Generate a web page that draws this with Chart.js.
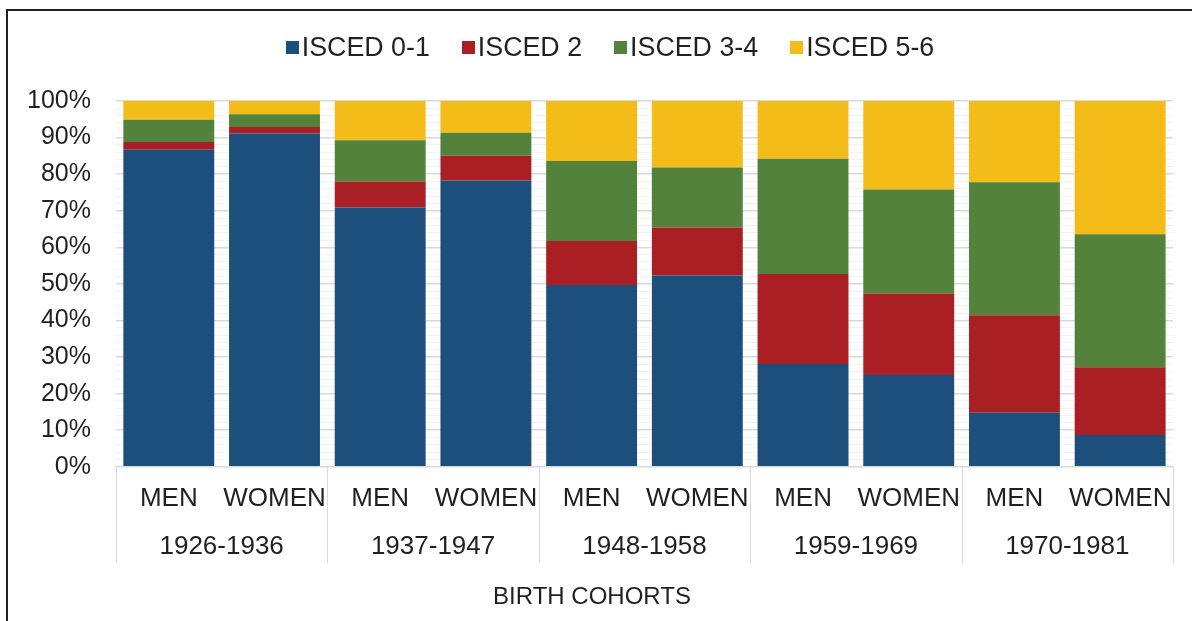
<!DOCTYPE html>
<html>
<head>
<meta charset="utf-8">
<script src="https://cdn.jsdelivr.net/npm/chart.js@4.4.1/dist/chart.umd.min.js"></script>
<style>
  body { margin: 0; background: #fff; font-family: "Liberation Sans", Arial, sans-serif; }
  #frame { position: absolute; left: 6px; top: 9px; width: 1200px; height: 640px;
           border-left: 2px solid #231f20; border-top: 2px solid #231f20; }
  #wrap { position: absolute; left: 0; top: 0; width: 1192px; height: 621px; }
  #legend { position: absolute; top: 32px; left: 28px; width: 1164px; text-align: center;
            font-size: 26.8px; color: #231f20; white-space: nowrap; }
  #legend span.item { display: inline-block; margin: 0 16px; }
  #legend span.box { display: inline-block; width: 13px; height: 13px; margin-right: 3px; vertical-align: 2px; }
</style>
</head>
<body>
<div id="frame"></div>
<div id="wrap"><canvas id="chart"></canvas></div>
<div id="legend"></div>
<script>
// categories: sex within each birth cohort
var sexes = ["MEN", "WOMEN", "MEN", "WOMEN", "MEN", "WOMEN", "MEN", "WOMEN", "MEN", "WOMEN"];
var cohorts = ["1926-1936", "1937-1947", "1948-1958", "1959-1969", "1970-1981"];
var axisTitle = "BIRTH COHORTS";

// shares (%)
var isced01 = [86.7, 91.1, 70.9, 78.3, 49.7, 52.3, 28.1, 25.1, 14.8, 8.7];
var isced2 = [2.1, 1.8, 7.1, 6.7, 12.0, 13.1, 24.6, 22.3, 26.6, 18.5];
var isced34 = [6.1, 3.5, 11.3, 6.3, 21.9, 16.4, 31.5, 28.4, 36.4, 36.4];
var isced56 = [5.1, 3.6, 10.7, 8.7, 16.4, 18.2, 15.8, 24.2, 22.2, 36.4];

var seriesNames = ["ISCED 0-1", "ISCED 2", "ISCED 3-4", "ISCED 5-6"];
var seriesColors = ["#1d4f7c", "#aa1f23", "#53823a", "#f4bc19"];
var seriesData = [isced01, isced2, isced34, isced56];

var textColor = "#231f20";
var gridMajor = "#d9d9d9";
var gridMinor = "#f2f2f2";
var fontFamily = "'Liberation Sans', Arial, sans-serif";

// draws the cohort row, the group separators and the axis title under the sex labels
var cohortAxis = {
  id: "cohortAxis",
  afterDraw: function (chart) {
    var ctx = chart.ctx;
    var xs = chart.scales.x;
    var bottom = chart.chartArea.bottom;
    var per = sexes.length / cohorts.length;
    var step = xs.getPixelForValue(1) - xs.getPixelForValue(0);
    ctx.save();
    ctx.strokeStyle = gridMajor;
    ctx.lineWidth = 1;
    for (var i = 0; i <= cohorts.length; i++) {
      var bx;
      if (i === cohorts.length) bx = xs.right;
      else bx = xs.getPixelForValue(i * per) - step / 2;
      bx = Math.round(bx) + 0.5;
      ctx.beginPath();
      ctx.moveTo(bx, bottom);
      ctx.lineTo(bx, bottom + 96);
      ctx.stroke();
    }
    ctx.fillStyle = textColor;
    ctx.font = "26px " + fontFamily;
    ctx.textAlign = "center";
    ctx.textBaseline = "middle";
    cohorts.forEach(function (c, i) {
      var cx = (xs.getPixelForValue(i * per) + xs.getPixelForValue(i * per + per - 1)) / 2;
      ctx.fillText(c, cx, bottom + 80);
    });
    ctx.font = "24px " + fontFamily;
    ctx.fillText(axisTitle, chart.width / 2 - 4, bottom + 131);
    ctx.restore();
  }
};

var datasets = seriesNames.map(function (name, i) {
  return {
    label: name,
    data: seriesData[i],
    backgroundColor: seriesColors[i],
    borderWidth: 0,
    barPercentage: 0.86,
    categoryPercentage: 1.0
  };
});

var chart = new Chart(document.getElementById("chart"), {
  type: "bar",
  data: { labels: sexes, datasets: datasets },
  options: {
    responsive: true,
    maintainAspectRatio: false,
    animation: false,
    layout: { padding: { top: 101, left: 2, right: 19, bottom: 91 } },
    plugins: {
      legend: { display: false },
      tooltip: { enabled: false }
    },
    scales: {
      x: {
        stacked: true,
        grid: { display: false, drawTicks: false },
        border: { display: true, color: gridMajor, width: 1 },
        ticks: {
          color: textColor,
          font: { family: fontFamily, size: 26 },
          padding: 16,
          maxRotation: 0,
          autoSkip: false
        }
      },
      y: {
        stacked: true,
        min: 0,
        max: 100,
        border: { display: false },
        grid: {
          drawTicks: false,
          color: function (c) { return c.tick && c.tick.value % 10 === 0 ? gridMajor : gridMinor; },
          lineWidth: function (c) { return c.tick && c.tick.value % 10 === 0 ? 1.5 : 1; }
        },
        ticks: {
          stepSize: 2,
          autoSkip: false,
          padding: 25,
          color: textColor,
          font: { family: fontFamily, size: 25 },
          callback: function (v) { return v % 10 === 0 ? v + "%" : ""; }
        }
      }
    }
  },
  plugins: [cohortAxis]
});

// legend built from the chart's datasets
var legendEl = document.getElementById("legend");
chart.data.datasets.forEach(function (ds) {
  var item = document.createElement("span");
  item.className = "item";
  var box = document.createElement("span");
  box.className = "box";
  box.style.background = ds.backgroundColor;
  item.appendChild(box);
  item.appendChild(document.createTextNode(ds.label));
  legendEl.appendChild(item);
});
</script>
</body>
</html>
